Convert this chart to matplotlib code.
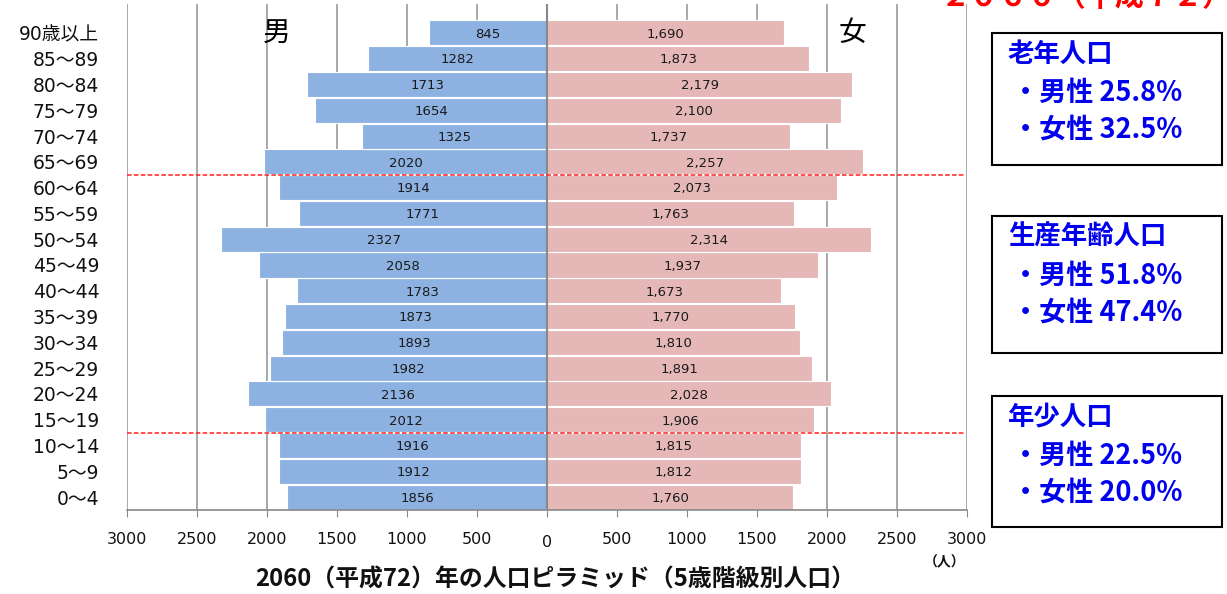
import matplotlib
matplotlib.use("Agg")
import matplotlib.pyplot as plt
from matplotlib.patches import Rectangle
from matplotlib.transforms import ScaledTranslation

plt.rcParams['font.family'] = ['Noto Sans CJK JP', 'DejaVu Sans']

# Age groups, youngest first (bottom of the pyramid)
age_groups = ["0～4", "5～9", "10～14", "15～19", "20～24", "25～29", "30～34",
              "35～39", "40～44", "45～49", "50～54", "55～59", "60～64",
              "65～69", "70～74", "75～79", "80～84", "85～89", "90歳以上"]
male = [1856, 1912, 1916, 2012, 2136, 1982, 1893, 1873, 1783, 2058, 2327,
        1771, 1914, 2020, 1325, 1654, 1713, 1282, 845]
female = [1760, 1812, 1815, 1906, 2028, 1891, 1810, 1770, 1673, 1937, 2314,
          1763, 2073, 2257, 1737, 2100, 2179, 1873, 1690]

x_ticks = [-3000, -2500, -2000, -1500, -1000, -500, 0, 500, 1000, 1500, 2000, 2500, 3000]
x_tick_labels = ["3000", "2500", "2000", "1500", "1000", "500", "0",
                 "500", "1000", "1500", "2000", "2500", "3000"]

# Summary boxes: title, male share, female share
box_titles = ["老年人口", "生産年齢人口", "年少人口"]
box_male = ["25.8%", "51.8%", "22.5%"]
box_female = ["32.5%", "47.4%", "20.0%"]

male_color = "#8DB2E2"
female_color = "#E5B8B7"

fig = plt.figure(figsize=(12.27, 5.94), dpi=100)
W, H = 1227, 594
ax = fig.add_axes([127 / W, 1 - 510 / H, (967 - 127) / W, (510 - 4) / H])

y = list(range(len(age_groups)))
ax.barh(y, [-m for m in male], height=0.97, color=male_color,
        edgecolor="white", linewidth=0.8, zorder=2)
ax.barh(y, female, height=0.97, color=female_color,
        edgecolor="white", linewidth=0.8, zorder=2)

for yi, m, f in zip(y, male, female):
    ax.text(-m / 2, yi - 0.05, f"{m}", ha="center", va="center",
            fontsize=9.5, color="#1a1a1a", family="DejaVu Sans", zorder=3)
    ax.text(f / 2, yi - 0.05, f"{f:,}", ha="center", va="center",
            fontsize=9.5, color="#1a1a1a", family="DejaVu Sans", zorder=3)

ax.set_xlim(-3000, 3000)
ax.set_ylim(-0.5, len(age_groups) - 0.5 + 0.62)
ax.set_xticks(x_ticks)
ax.set_xticklabels(x_tick_labels, fontsize=11.5, family=["DejaVu Sans"],
                   color="#111111")
ax.set_yticks(y)
ax.set_yticklabels(age_groups, fontsize=13.5, color="#111111",
                   family=["DejaVu Sans", "Noto Sans CJK JP"])
ax.tick_params(axis="y", length=0, pad=20)
ax.tick_params(axis="x", length=5, color="#888888", pad=11, direction="out")
# the zero label sits slightly lower than the others
zero_label = ax.get_xticklabels()[6]
zero_label.set_transform(zero_label.get_transform() +
                         ScaledTranslation(0, -3 / 100, fig.dpi_scale_trans))
ax.xaxis.grid(True, color="#9a9a9a", linewidth=1.2, zorder=0)
ax.set_axisbelow(True)
for s in ["top", "right", "left"]:
    ax.spines[s].set_visible(False)
ax.spines["bottom"].set_color("#888888")
ax.spines["bottom"].set_linewidth(1.2)
ax.axvline(0, color="#888888", linewidth=1.5, zorder=2.5)

# Boundaries between the three age bands
for yb in [12.5, 2.5]:
    ax.plot([-3000, 2980], [yb, yb], color="#FF2020", linestyle=(0, (3, 1.5)),
            linewidth=1.1, zorder=4)

ax.text(-1929, 18.0, "男", fontsize=20, ha="center", va="center", color="black")
ax.text(2179, 18.0, "女", fontsize=20, ha="center", va="center", color="black")

fig.text(945 / W, 1 - 562 / H, "（人）", fontsize=10, ha="center", va="center",
         fontweight="bold", color="#111111")
fig.text(555 / W, 1 - 580 / H, "2060（平成72）年の人口ピラミッド（5歳階級別人口）",
         fontsize=17.2, ha="center", va="center", fontweight="bold", color="#111111")

# Year heading at the top right
fig.text(941 / W, 1 - 6 / H, "２０６０（平成７２）", fontsize=21, ha="left",
         va="baseline", fontweight="bold", color="#FF0000")

boxes = [(33, 165), (216, 353), (396, 527)]
blue = "#0000EE"
for (top, bottom), title, m, f in zip(boxes, box_titles, box_male, box_female):
    fig.patches.append(Rectangle((992 / W, 1 - bottom / H), (1222 - 992) / W,
                                 (bottom - top) / H, transform=fig.transFigure,
                                 fill=False, edgecolor="black", linewidth=1.5))
    fig.text(1008 / W, 1 - (top + 21) / H, title, fontsize=19, fontweight="bold",
             color=blue, va="center", ha="left")
    fig.text(1012 / W, 1 - (top + 60) / H, f"・男性 {m}", fontsize=19.5,
             fontweight="bold", color=blue, va="center", ha="left")
    fig.text(1012 / W, 1 - (top + 97) / H, f"・女性 {f}", fontsize=19.5,
             fontweight="bold", color=blue, va="center", ha="left")

fig.savefig("out.png", dpi=100)
